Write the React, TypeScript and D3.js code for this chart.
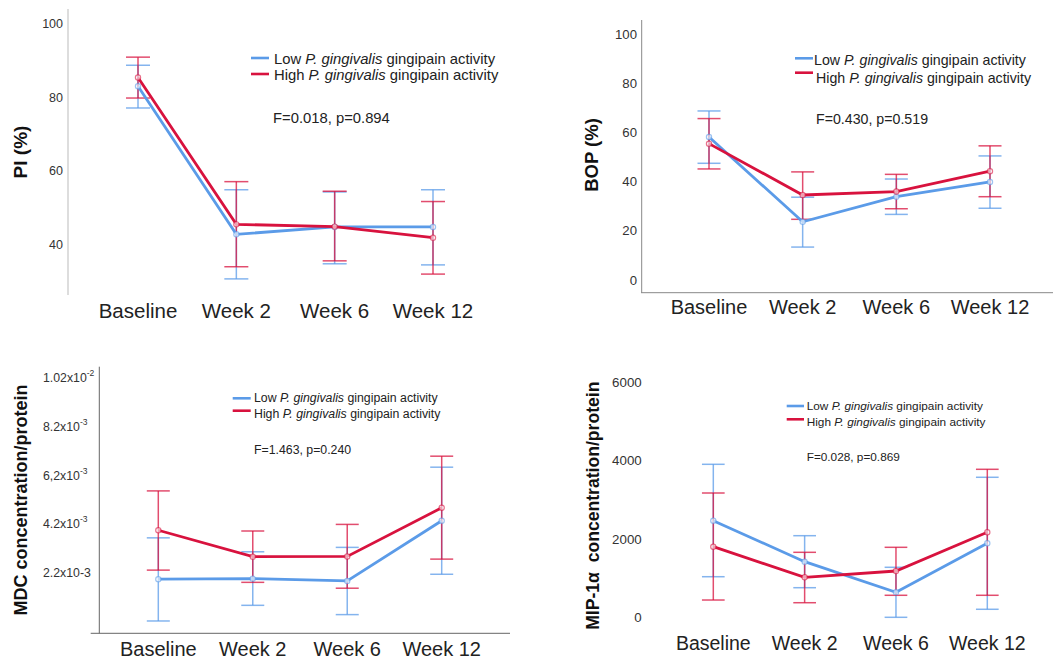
import React from "react";
import * as d3 from "d3";

const categories = ["Baseline", "Week 2", "Week 6", "Week 12"];

const piLowMean = [83.1, 42.9, 44.9, 44.9];
const piLowLower = [77.2, 30.8, 34.9, 34.6];
const piLowUpper = [88.8, 55.0, 54.4, 55.0];
const piHighMean = [85.5, 45.6, 45.0, 42.0];
const piHighLower = [79.9, 34.1, 35.7, 32.1];
const piHighUpper = [91.0, 57.2, 54.6, 51.8];
const piTicks = [40, 60, 80, 100];

const bopLowMean = [58.2, 23.7, 33.9, 39.9];
const bopLowLower = [47.5, 13.4, 26.7, 29.2];
const bopLowUpper = [68.8, 33.7, 41.1, 50.5];
const bopHighMean = [55.5, 34.6, 36.0, 44.3];
const bopHighLower = [45.2, 24.7, 29.0, 33.9];
const bopHighUpper = [65.7, 44.0, 43.0, 54.6];
const bopTicks = [0, 20, 40, 60, 80, 100];

const mdcLowMean = [0.00196, 0.00198, 0.00189, 0.00435];
const mdcLowLower = [0.00025, 0.00089, 0.00051, 0.00216];
const mdcLowUpper = [0.00365, 0.00308, 0.00326, 0.00654];
const mdcHighMean = [0.00396, 0.00288, 0.00289, 0.00488];
const mdcHighLower = [0.00233, 0.00183, 0.00159, 0.00278];
const mdcHighUpper = [0.00557, 0.00393, 0.0042, 0.00699];
const mdcTicks = [0.0022, 0.0042, 0.0062, 0.0082, 0.0102];
const mdcTickBase = ["2.2x10-3", "4.2x10", "6,2x10", "8.2x10", "1.02x10"];
const mdcTickSup = ["", "-3", "-3", "-3", "-2"];

const mipLowMean = [2471, 1422, 639, 1893];
const mipLowLower = [1038, 757, 0, 205];
const mipLowUpper = [3913, 2087, 1279, 3581];
const mipHighMean = [1806, 1023, 1184, 2174];
const mipHighLower = [442, 373, 563, 563];
const mipHighUpper = [3179, 1662, 1790, 3785];
const mipTicks = [0, 2000, 4000, 6000];

const statTexts = ["F=0.018, p=0.894", "F=0.430, p=0.519", "F=1.463, p=0.240", "F=0.028, p=0.869"];
const yTitles = ["PI (%)", "BOP (%)", "MDC concentration/protein", "MIP-1\u03B1\u00A0\u00A0concentration/protein"];

const BLUE = "#5b9be8";
const RED = "#d8123e";
const FONT = "'Liberation Sans', Arial, Helvetica, sans-serif";

type Series = { mean: number[]; lower: number[]; upper: number[]; color: string };

type PanelProps = {
  yDomain: [number, number];
  yRange: [number, number];
  xRange: [number, number];
  ticks: number[];
  tickLabel: (v: number, i: number) => React.ReactNode;
  tickX: number;
  tickAnchor: "start" | "end";
  tickSize: number;
  catY: number;
  catSize: number;
  title: string;
  titleX: number;
  titleY: number;
  titleSize: number;
  legendX: [number, number];
  legendY: [number, number];
  legendTextX: [number, number];
  legendTextY: [number, number];
  legendSize: number;
  stat: string;
  statX: number;
  statY: number;
  capW: number;
  series: Series[];
  axes?: { vx: number; vy: [number, number]; hy?: number; hx?: [number, number]; color: string };
};

function LegendLabel({ prefix }: { prefix: string }) {
  return (
    <>
      <tspan>{prefix} </tspan>
      <tspan fontStyle="italic">P. gingivalis</tspan>
      <tspan> gingipain activity</tspan>
    </>
  );
}

function Panel(p: PanelProps) {
  const y = d3.scaleLinear().domain(p.yDomain).range(p.yRange);
  const x = d3.scalePoint<string>().domain(categories).range(p.xRange);
  const line = d3
    .line<number>()
    .x((_, i) => x(categories[i]) as number)
    .y((d) => y(d));
  const legendNames = ["Low", "High"];
  return (
    <g fontFamily={FONT}>
      {p.axes && (
        <g stroke={p.axes.color} strokeWidth={1}>
          <line x1={p.axes.vx} x2={p.axes.vx} y1={p.axes.vy[0]} y2={p.axes.vy[1]} />
          {p.axes.hy !== undefined && p.axes.hx && (
            <line x1={p.axes.hx[0]} x2={p.axes.hx[1]} y1={p.axes.hy} y2={p.axes.hy} />
          )}
        </g>
      )}
      {p.ticks.map((t, i) => (
        <text
          key={"t" + i}
          x={p.tickX}
          y={y(t)}
          textAnchor={p.tickAnchor}
          dominantBaseline="central"
          fontSize={p.tickSize}
          fill="#333"
        >
          {p.tickLabel(t, i)}
        </text>
      ))}
      {categories.map((c) => (
        <text
          key={c}
          x={x(c)}
          y={p.catY}
          textAnchor="middle"
          dominantBaseline="central"
          fontSize={p.catSize}
          fill="#222"
        >
          {c}
        </text>
      ))}
      <text
        transform={`translate(${p.titleX},${p.titleY}) rotate(-90)`}
        textAnchor="middle"
        dominantBaseline="central"
        fontSize={p.titleSize}
        fontWeight="bold"
        fill="#111"
      >
        {p.title}
      </text>
      {p.series.map((s, si) => (
        <g key={"s" + si}>
          <g stroke={s.color} strokeOpacity={0.75} strokeWidth={1.5}>
            {categories.map((c, i) => {
              const cx = x(c) as number;
              return (
                <g key={c}>
                  <line x1={cx} x2={cx} y1={y(s.lower[i])} y2={y(s.upper[i])} />
                  <line x1={cx - p.capW / 2} x2={cx + p.capW / 2} y1={y(s.lower[i])} y2={y(s.lower[i])} />
                  <line x1={cx - p.capW / 2} x2={cx + p.capW / 2} y1={y(s.upper[i])} y2={y(s.upper[i])} />
                </g>
              );
            })}
          </g>
        </g>
      ))}
      {p.series.map((s, si) => (
        <g key={"l" + si}>
          <path d={line(s.mean) || ""} fill="none" stroke={s.color} strokeWidth={2.8} />
          {s.mean.map((v, i) => (
            <circle
              key={i}
              cx={x(categories[i])}
              cy={y(v)}
              r={2.6}
              fill="#fff"
              fillOpacity={0.6}
              stroke={s.color}
              strokeOpacity={0.6}
              strokeWidth={1.2}
            />
          ))}
        </g>
      ))}
      {p.series.map((s, si) => (
        <g key={"lg" + si}>
          <line
            x1={p.legendX[0]}
            x2={p.legendX[1]}
            y1={p.legendY[si]}
            y2={p.legendY[si]}
            stroke={s.color}
            strokeWidth={2.6}
          />
          <text
            x={p.legendTextX[si]}
            y={p.legendTextY[si]}
            dominantBaseline="central"
            fontSize={p.legendSize}
            fill="#222"
          >
            <LegendLabel prefix={legendNames[si]} />
          </text>
        </g>
      ))}
      <text x={p.statX} y={p.statY} dominantBaseline="central" fontSize={p.legendSize} fill="#222">
        {p.stat}
      </text>
    </g>
  );
}

export default function App() {
  const plain = (v: number) => String(v);
  const mdcLabel = (_: number, i: number) => (
    <>
      <tspan>{mdcTickBase[i]}</tspan>
      {mdcTickSup[i] && (
        <tspan fontSize={8.5} dy={-5}>
          {mdcTickSup[i]}
        </tspan>
      )}
    </>
  );
  return (
    <svg
      width={1056}
      height={659}
      style={{ position: "absolute", left: 0, top: 0, background: "#fff" }}
    >
      <rect width={1056} height={659} fill="#fff" />
      <Panel
        yDomain={[40, 100]}
        yRange={[245, 24]}
        xRange={[138, 433]}
        ticks={piTicks}
        tickLabel={plain}
        tickX={63}
        tickAnchor="end"
        tickSize={12.5}
        catY={310}
        catSize={20.5}
        title={yTitles[0]}
        titleX={20}
        titleY={152}
        titleSize={19}
        legendX={[251, 269]}
        legendY={[58, 74]}
        legendTextX={[274, 274]}
        legendTextY={[59, 75]}
        legendSize={14.8}
        stat={statTexts[0]}
        statX={273}
        statY={118}
        capW={24}
        axes={{ vx: 68, vy: [9, 295], color: "#bbb" }}
        series={[
          { mean: piLowMean, lower: piLowLower, upper: piLowUpper, color: BLUE },
          { mean: piHighMean, lower: piHighLower, upper: piHighUpper, color: RED },
        ]}
      />
      <Panel
        yDomain={[0, 100]}
        yRange={[280, 34.3]}
        xRange={[709, 990]}
        ticks={bopTicks}
        tickLabel={plain}
        tickX={637}
        tickAnchor="end"
        tickSize={13.2}
        catY={306.7}
        catSize={20}
        title={yTitles[1]}
        titleX={591.7}
        titleY={155}
        titleSize={18.5}
        legendX={[795, 813]}
        legendY={[58.3, 72.7]}
        legendTextX={[814, 816]}
        legendTextY={[60, 77.7]}
        legendSize={14.2}
        stat={statTexts[1]}
        statX={816}
        statY={119.3}
        capW={23}
        axes={{ vx: 641.7, vy: [20, 292.7], hy: 292.7, hx: [641, 1053], color: "#888" }}
        series={[
          { mean: bopLowMean, lower: bopLowLower, upper: bopLowUpper, color: BLUE },
          { mean: bopHighMean, lower: bopHighLower, upper: bopHighUpper, color: RED },
        ]}
      />
      <Panel
        yDomain={[0.0022, 0.0102]}
        yRange={[573.3, 377.7]}
        xRange={[158.3, 441.7]}
        ticks={mdcTicks}
        tickLabel={mdcLabel}
        tickX={43}
        tickAnchor="start"
        tickSize={12.3}
        catY={649}
        catSize={20}
        title={yTitles[2]}
        titleX={20.7}
        titleY={500}
        titleSize={18}
        legendX={[232.7, 250.7]}
        legendY={[398.3, 410.7]}
        legendTextX={[254, 254]}
        legendTextY={[398, 414]}
        legendSize={12.3}
        stat={statTexts[2]}
        statX={254}
        statY={450}
        capW={23}
        axes={{ vx: 99.3, vy: [366.7, 633.3], hy: 633.3, hx: [90.7, 510], color: "#666" }}
        series={[
          { mean: mdcLowMean, lower: mdcLowLower, upper: mdcLowUpper, color: BLUE },
          { mean: mdcHighMean, lower: mdcHighLower, upper: mdcHighUpper, color: RED },
        ]}
      />
      <Panel
        yDomain={[0, 6000]}
        yRange={[617.3, 382.7]}
        xRange={[713.3, 987.3]}
        ticks={mipTicks}
        tickLabel={plain}
        tickX={641.7}
        tickAnchor="end"
        tickSize={13.3}
        catY={643.3}
        catSize={19.5}
        title={yTitles[3]}
        titleX={593.3}
        titleY={505.7}
        titleSize={17.6}
        legendX={[786.7, 804]}
        legendY={[406, 419.3]}
        legendTextX={[806.7, 806.7]}
        legendTextY={[406, 422.3]}
        legendSize={11.8}
        stat={statTexts[3]}
        statX={806.7}
        statY={456.7}
        capW={22.7}
        series={[
          { mean: mipLowMean, lower: mipLowLower, upper: mipLowUpper, color: BLUE },
          { mean: mipHighMean, lower: mipHighLower, upper: mipHighUpper, color: RED },
        ]}
      />
    </svg>
  );
}
